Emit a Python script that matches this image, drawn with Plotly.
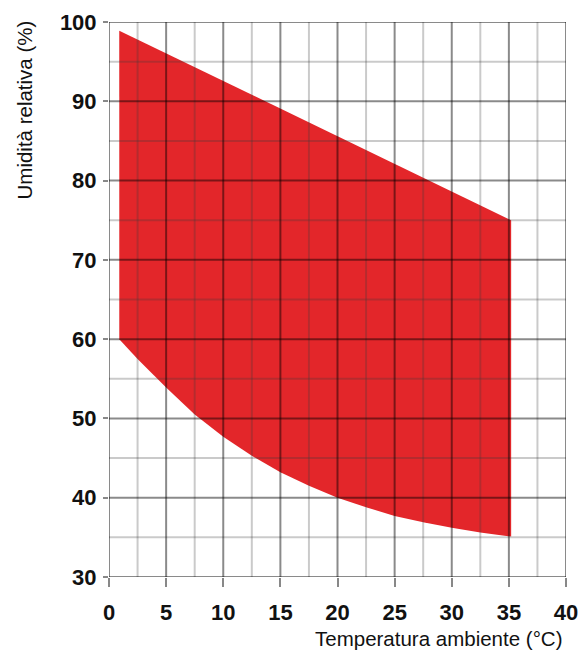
import plotly.graph_objects as go

# Data
top_x = [0.9, 35.2]
top_y = [98.9, 75.0]
bottom_x = [0.9, 2.5, 5.0, 7.5, 10.0, 12.5, 15.0, 17.5, 20.0, 22.5, 25.0, 27.5, 30.0, 32.5, 35.2]
bottom_y = [60.0, 57.5, 53.9, 50.5, 47.7, 45.3, 43.2, 41.5, 40.0, 38.8, 37.7, 36.9, 36.2, 35.6, 35.1]

x_major = [0, 5, 10, 15, 20, 25, 30, 35, 40]
x_minor = [2.5, 7.5, 12.5, 17.5, 22.5, 27.5, 32.5, 37.5]
y_major = [30, 40, 50, 60, 70, 80, 90, 100]
y_minor = [35, 45, 55, 65, 75, 85, 95]

x_title = "Temperatura ambiente (°C)"
y_title = "Umidità relativa (%)"

poly_x = top_x + bottom_x[::-1]
poly_y = top_y + bottom_y[::-1]

fig = go.Figure()
fig.add_trace(go.Scatter(
    x=poly_x, y=poly_y, fill="toself", mode="lines",
    line=dict(width=0, color="#E3262A"), fillcolor="#E3262A",
    hoverinfo="skip", showlegend=False,
))

MAJ = "rgba(0,0,0,0.46)"
MIN = "rgba(60,60,60,0.27)"
shapes = []
for v in x_minor:
    shapes.append(dict(type="line", xref="x", yref="y", x0=v, x1=v, y0=30, y1=100,
                       line=dict(color=MIN, width=2), layer="above"))
for v in y_minor:
    shapes.append(dict(type="line", xref="x", yref="y", x0=0, x1=40, y0=v, y1=v,
                       line=dict(color=MIN, width=2), layer="above"))
for v in x_major:
    shapes.append(dict(type="line", xref="x", yref="y", x0=v, x1=v, y0=30, y1=100,
                       line=dict(color=MAJ, width=2), layer="above"))
for v in y_major:
    shapes.append(dict(type="line", xref="x", yref="y", x0=0, x1=40, y0=v, y1=v,
                       line=dict(color=MAJ, width=2), layer="above"))

FONT = "Liberation Sans, Arial, sans-serif"
tickfont = dict(family=FONT, size=22, color="#111111")
fig.update_layout(
    width=587, height=653,
    margin=dict(l=109, r=21, t=22, b=76, autoexpand=False),
    paper_bgcolor="white", plot_bgcolor="white",
    shapes=shapes,
    xaxis=dict(range=[0, 40], tickvals=x_major, ticktext=[f"<b>{v}</b>" for v in x_major],
               showgrid=False, zeroline=False, showline=False, automargin=False,
               ticks="outside", ticklen=9, tickwidth=2, tickcolor="#888888",
               tickfont=tickfont, ticklabelstandoff=7, fixedrange=True),
    yaxis=dict(range=[30, 100], tickvals=y_major, ticktext=[f"<b>{v}</b>" for v in y_major],
               showgrid=False, zeroline=False, showline=False, automargin=False,
               ticks="outside", ticklen=5, tickwidth=2, tickcolor="#888888",
               tickfont=tickfont, ticklabelstandoff=2, fixedrange=True),
    annotations=[
        dict(text=x_title, xref="paper", yref="paper", x=1.0, y=0, xanchor="right", yanchor="bottom",
             yshift=-75, xshift=-2, showarrow=False,
             font=dict(family=FONT, size=20.5, color="#111111")),
        dict(text=y_title, xref="paper", yref="paper", x=0, y=1.0, xanchor="center", yanchor="top",
             xshift=-85, yshift=3, textangle=-90, showarrow=False,
             font=dict(family=FONT, size=20.5, color="#111111")),
    ],
)

fig.write_html("out.html", config={"displayModeBar": False},
               post_script="document.body.style.margin='0';document.body.style.overflow='hidden';")
